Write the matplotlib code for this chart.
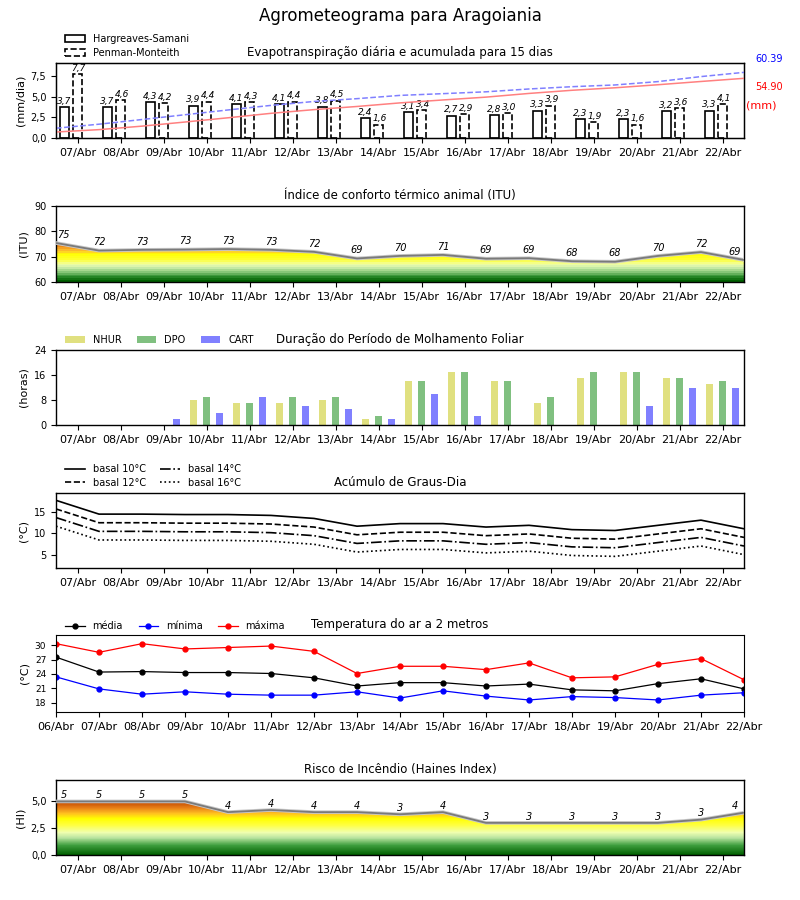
import numpy as np
import matplotlib
matplotlib.use("Agg")
import matplotlib.pyplot as plt
from matplotlib.patches import Polygon
from matplotlib.colors import LinearSegmentedColormap, Normalize
from matplotlib.ticker import FuncFormatter
import matplotlib.patheffects as pe

plt.rcParams['font.family'] = ['DejaVu Sans']

# ---------------- data ----------------
days = ["07/Abr", "08/Abr", "09/Abr", "10/Abr", "11/Abr", "12/Abr", "13/Abr", "14/Abr",
        "15/Abr", "16/Abr", "17/Abr", "18/Abr", "19/Abr", "20/Abr", "21/Abr", "22/Abr"]
temp_days = ["06/Abr"] + days

et_hargreaves = [3.7, 3.7, 4.3, 3.9, 4.1, 4.1, 3.8, 2.4, 3.1, 2.7, 2.8, 3.3, 2.3, 2.3, 3.2, 3.3]
et_penman = [7.7, 4.6, 4.2, 4.4, 4.3, 4.4, 4.5, 1.6, 3.4, 2.9, 3.0, 3.9, 1.9, 1.6, 3.6, 4.1]
# cumulative ET at day boundaries (start of first day ... end of last day)
cum_penman = [9.0, 12.7, 17.0, 21.4, 25.8, 30.0, 33.6, 36.2, 39.2, 40.8, 42.5, 45.1,
              47.2, 48.8, 51.9, 56.5, 60.39]
cum_hargreaves = [5.5, 7.7, 10.9, 14.7, 18.6, 22.7, 26.1, 29.0, 32.3, 35.0, 37.6, 41.0,
                  43.9, 46.2, 49.0, 52.0, 54.90]

itu = [75.4, 72.4, 72.7, 72.8, 73.0, 72.7, 71.9, 69.3, 70.3, 70.7, 69.2, 69.4,
       68.2, 68.0, 70.3, 71.8, 68.7]

nhur = [0, 0, 0, 8, 7, 7, 8, 2, 14, 17, 14, 7, 15, 17, 15, 13]
dpo = [0, 0, 0, 9, 7, 9, 9, 3, 14, 17, 14, 9, 17, 17, 15, 14]
cart = [0, 0, 2, 4, 9, 6, 5, 2, 10, 3, 0, 0, 0, 6, 12, 12]

gd_basal10 = [17.6, 14.4, 14.4, 14.3, 14.3, 14.1, 13.4, 11.6, 12.2, 12.2, 11.4, 11.8, 10.8, 10.6, 11.8, 13.0, 11.0]
gd_basal12 = [15.6, 12.4, 12.4, 12.3, 12.3, 12.1, 11.4, 9.6, 10.2, 10.2, 9.4, 9.8, 8.8, 8.6, 9.8, 11.0, 9.0]
gd_basal14 = [13.6, 10.4, 10.4, 10.3, 10.3, 10.1, 9.4, 7.6, 8.2, 8.2, 7.4, 7.8, 6.8, 6.6, 7.8, 9.0, 7.0]
gd_basal16 = [11.6, 8.4, 8.4, 8.3, 8.3, 8.1, 7.4, 5.6, 6.2, 6.2, 5.4, 5.8, 4.8, 4.6, 5.8, 7.0, 5.0]

t_media = [27.5, 24.4, 24.5, 24.3, 24.3, 24.1, 23.2, 21.5, 22.2, 22.2, 21.5, 21.9, 20.7, 20.5, 22.0, 23.0, 20.9]
t_minima = [23.4, 20.9, 19.8, 20.3, 19.8, 19.6, 19.6, 20.3, 19.0, 20.5, 19.4, 18.6, 19.3, 19.1, 18.6, 19.6, 20.1]
t_maxima = [30.3, 28.5, 30.3, 29.2, 29.5, 29.8, 28.7, 24.1, 25.6, 25.6, 24.9, 26.3, 23.2, 23.4, 26.0, 27.2, 22.8]

haines = [5.0, 5.0, 5.0, 5.0, 4.0, 4.2, 4.0, 4.0, 3.8, 4.0, 3.0, 3.0, 3.0, 3.0, 3.0, 3.3, 3.95]
haines_labels = [5, 5, 5, 5, 4, 4, 4, 4, 3, 4, 3, 3, 3, 3, 3, 3, 4]

# ---------------- helpers ----------------
W, H = 800, 900
fig = plt.figure(figsize=(W / 100, H / 100), dpi=100)


def make_ax(top_px, bot_px):
    return fig.add_axes([56 / W, 1 - bot_px / H, 688 / W, (bot_px - top_px) / H])


comma = FuncFormatter(lambda v, p: f"{v:.1f}".replace('.', ','))
TICK_FS = 8
YT_FS = 7
TITLE_FS = 8.5
LEG_X = 0.008
xi = np.arange(len(days))
xb = np.arange(len(days) + 1) - 0.5   # day boundaries


def label_x(xv):
    if xv <= -0.5:
        return -0.32
    if xv >= len(days) - 0.5:
        return len(days) - 0.72
    return xv


def style_days(ax):
    ax.set_xlim(-0.5, len(days) - 0.5)
    ax.set_xticks(xi)
    ax.set_xticklabels(days, fontsize=TICK_FS)
    ax.tick_params(axis='both', direction='out', length=3.5, width=0.8)
    ax.tick_params(axis='y', labelsize=YT_FS)
    for s in ax.spines.values():
        s.set_linewidth(1.0)


def gradient_fill(ax, x, y, ymin, ymax, cmap, norm):
    verts = [(x[0], ymin)] + list(zip(x, y)) + [(x[-1], ymin)]
    poly = Polygon(verts, closed=True, facecolor='none', edgecolor='none')
    ax.add_patch(poly)
    grad = np.linspace(ymin, ymax, 400).reshape(-1, 1)
    im = ax.imshow(grad, extent=[x[0], x[-1], ymin, ymax], origin='lower',
                   aspect='auto', cmap=cmap, norm=norm, zorder=1, interpolation='nearest')
    im.set_clip_path(poly)
    ax.plot(x, y, color='#7a7a7a', lw=1.3, zorder=3,
            path_effects=[pe.Stroke(linewidth=2.6, foreground='#c8c8c8'), pe.Normal()])


fig.suptitle("Agrometeograma para Aragoiania", fontsize=12, y=0.992)

# ---------------- panel 1: ET ----------------
ax1 = make_ax(63, 138)
bw = 0.22
ax1.bar(xi - 0.3, et_hargreaves, width=bw, facecolor='white', edgecolor='black', lw=1.2,
        label='Hargreaves-Samani', zorder=2)
ax1.bar(xi, et_penman, width=bw, facecolor='white', edgecolor='black', lw=1.2,
        linestyle='--', label='Penman-Monteith', zorder=2)
for i in range(len(days)):
    ax1.text(xi[i] - 0.31, et_hargreaves[i] + 0.15, f"{et_hargreaves[i]:.1f}".replace('.', ','),
             ha='center', va='bottom', fontsize=6.5, style='italic')
    ax1.text(xi[i] + 0.03, et_penman[i] + 0.15, f"{et_penman[i]:.1f}".replace('.', ','),
             ha='center', va='bottom', fontsize=6.5, style='italic')
style_days(ax1)
ax1.set_ylim(0, 9.05)
ax1.set_yticks([0, 2.5, 5, 7.5])
ax1.yaxis.set_major_formatter(comma)
ax1.set_ylabel("(mm/dia)", fontsize=8)
ax1.set_title("Evapotranspiração diária e acumulada para 15 dias", fontsize=TITLE_FS, pad=5)
ax1.legend(loc='lower left', bbox_to_anchor=(LEG_X, 1.02), frameon=False, fontsize=7,
           handlelength=2.0, borderaxespad=0, labelspacing=0.35)
ax1b = ax1.twinx()
ax1b.plot(xb, cum_penman, color='#8080ff', lw=1.1, ls='--')
ax1b.plot(xb, cum_hargreaves, color='#ff8080', lw=1.1)
ax1b.set_ylim(0, 69)
ax1b.set_yticks([])
ax1b.set_xlim(-0.5, len(days) - 0.5)
fig.text(755 / W, 1 - 59 / H, f"{cum_penman[-1]:.2f}", color='blue', fontsize=7, va='center')
fig.text(755 / W, 1 - 87 / H, f"{cum_hargreaves[-1]:.2f}", color='red', fontsize=7, va='center')
fig.text(746 / W, 1 - 105 / H, "(mm)", color='red', fontsize=8, va='center')

# ---------------- panel 2: ITU ----------------
ax2 = make_ax(206, 282)
itu_cmap = LinearSegmentedColormap.from_list(
    'itu', [(0.0, '#005f00'), (0.12, '#2f8f2f'), (0.25, '#8fcc7f'), (0.36, '#d6f3b0'),
            (0.45, '#f2ffa0'), (0.56, '#ffff30'), (0.70, '#ffff00'), (0.78, '#ffc830'),
            (0.86, '#f5a020'), (1.0, '#d85a08')], N=22)
gradient_fill(ax2, xb, itu, 60, 90, itu_cmap, Normalize(60, 76))
for xv, v in zip(xb, itu):
    ax2.text(label_x(xv), v + 1.3, f"{round(v):d}", ha='center', va='bottom',
             fontsize=7, style='italic', zorder=4)
style_days(ax2)
ax2.set_ylim(60, 90)
ax2.set_yticks([60, 70, 80, 90])
ax2.set_ylabel("(ITU)", fontsize=8)
ax2.set_title("Índice de conforto térmico animal (ITU)", fontsize=TITLE_FS, pad=5)

# ---------------- panel 3: molhamento ----------------
ax3 = make_ax(350, 425)
w3 = 0.16
ax3.bar(xi - 0.3, nhur, width=w3, color='#e0e080', label='NHUR')
ax3.bar(xi, dpo, width=w3, color='#80c080', label='DPO')
ax3.bar(xi + 0.3, cart, width=w3, color='#8080ff', label='CART')
style_days(ax3)
ax3.set_ylim(0, 24)
ax3.set_yticks([0, 8, 16, 24])
ax3.set_ylabel("(horas)", fontsize=8)
ax3.set_title("Duração do Período de Molhamento Foliar", fontsize=TITLE_FS, pad=5)
ax3.legend(loc='lower left', bbox_to_anchor=(LEG_X, 1.02), frameon=False, fontsize=7, ncol=3,
           borderaxespad=0, handlelength=2.0, columnspacing=1.6)

# ---------------- panel 4: graus-dia ----------------
ax4 = make_ax(493, 568)
ax4.plot(xb, gd_basal10, color='black', lw=1.2, ls='-', label='basal 10°C')
ax4.plot(xb, gd_basal12, color='black', lw=1.2, ls='--', label='basal 12°C')
ax4.plot(xb, gd_basal14, color='black', lw=1.2, ls='-.', label='basal 14°C')
ax4.plot(xb, gd_basal16, color='black', lw=1.2, ls=':', label='basal 16°C')
style_days(ax4)
ax4.set_ylim(1.9, 19.3)
ax4.set_yticks([5, 10, 15])
ax4.set_ylabel("(°C)", fontsize=8)
ax4.set_title("Acúmulo de Graus-Dia", fontsize=TITLE_FS, pad=5)
ax4.legend(loc='lower left', bbox_to_anchor=(LEG_X, 1.02), frameon=False, fontsize=7, ncol=2,
           borderaxespad=0, handlelength=2.0, labelspacing=0.35, columnspacing=1.5)

# ---------------- panel 5: temperatura ----------------
ax5 = make_ax(635, 712)
xt = np.arange(len(temp_days))
ax5.plot(xt, t_media, color='black', marker='o', ms=3.5, lw=0.9, label='média')
ax5.plot(xt, t_minima, color='blue', marker='o', ms=3.5, lw=0.9, label='mínima')
ax5.plot(xt, t_maxima, color='red', marker='o', ms=3.5, lw=0.9, label='máxima')
ax5.set_xlim(0, len(temp_days) - 1)
ax5.set_xticks(xt)
ax5.set_xticklabels(temp_days, fontsize=TICK_FS)
ax5.tick_params(axis='both', direction='out', length=3.5, width=0.8)
ax5.tick_params(axis='y', labelsize=6.5)
ax5.set_ylim(16.1, 32.1)
ax5.set_yticks([18, 21, 24, 27, 30])
ax5.set_ylabel("(°C)", fontsize=8)
ax5.set_title("Temperatura do ar a 2 metros", fontsize=TITLE_FS, pad=5)
ax5.legend(loc='lower left', bbox_to_anchor=(LEG_X, 1.0), frameon=False, fontsize=7, ncol=3,
           borderaxespad=0, handlelength=2.0, columnspacing=1.6)

# ---------------- panel 6: Haines ----------------
ax6 = make_ax(780, 855)
hi_cmap = LinearSegmentedColormap.from_list(
    'hi', [(0.0, '#005f00'), (0.18, '#3f9f3f'), (0.32, '#b8e4a0'), (0.42, '#f0ffb0'),
           (0.56, '#ffff40'), (0.68, '#ffff00'), (0.78, '#ffc020'), (0.88, '#e88018'),
           (1.0, '#c04800')], N=256)
gradient_fill(ax6, xb, haines, 0, 7, hi_cmap, Normalize(0, 5.0))
for xv, v, lab in zip(xb, haines, haines_labels):
    ax6.text(label_x(xv), v + 0.12, f"{lab:d}", ha='center', va='bottom',
             fontsize=7, style='italic', zorder=4)
style_days(ax6)
ax6.set_ylim(0, 7)
ax6.set_yticks([0, 2.5, 5])
ax6.yaxis.set_major_formatter(comma)
ax6.set_ylabel("(HI)", fontsize=8)
ax6.set_title("Risco de Incêndio (Haines Index)", fontsize=TITLE_FS, pad=5)

fig.savefig("out.png", dpi=100)
